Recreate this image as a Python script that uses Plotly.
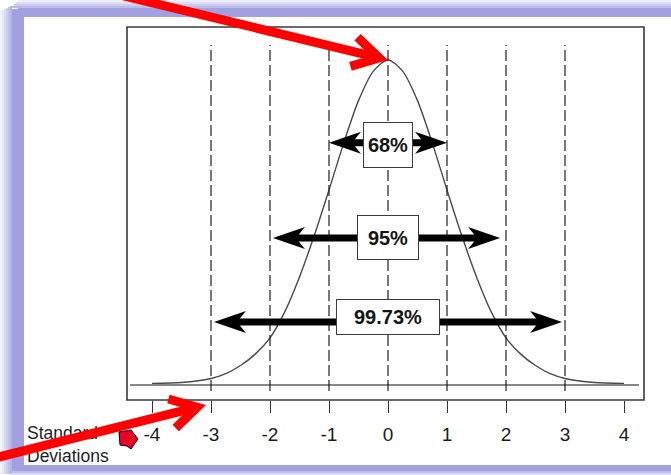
import math
import plotly.graph_objects as go

# ---------------- data ----------------
sd_x = [-4, -3.5, -3, -2.75, -2.5, -2.25, -2, -1.75, -1.5, -1.25, -1, -0.75, -0.5, -0.25, 0,
        0.25, 0.5, 0.75, 1, 1.25, 1.5, 1.75, 2, 2.25, 2.5, 2.75, 3, 3.5, 4]
density = [0.002, 0.003, 0.008, 0.014, 0.024, 0.038, 0.058, 0.090, 0.133, 0.184, 0.240, 0.298, 0.350, 0.386, 0.400,
           0.386, 0.350, 0.298, 0.240, 0.184, 0.133, 0.090, 0.058, 0.038, 0.024, 0.014, 0.008, 0.003, 0.002]
sd_lines = [-3, -2, -1, 0, 1, 2, 3]
tick_vals = [-4, -3, -2, -1, 0, 1, 2, 3, 4]
tick_labels = ["-4", "-3", "-2", "-1", "0", "1", "2", "3", "4"]
band_labels = ["68%", "95%", "99.73%"]
band_left = [-1.0, -1.95, -2.95]
band_right = [1.0, 1.9, 2.95]
band_level = [0.298, 0.181, 0.0775]
axis_caption = "Standard<br>Deviations"

# ---------------- layout geometry / styles ----------------
W, H = 671, 475
FL, FR, FT, FB = 127, 644, 27, 400   # frame (plot area) in page pixels
X_RANGE = [-4.4237, 4.339]
Y_RANGE = [-0.01846, 0.4406]
plot_w = FR - FL
plot_h = FB - FT
dxpx = (X_RANGE[1] - X_RANGE[0]) / plot_w
dypx = (Y_RANGE[1] - Y_RANGE[0]) / plot_h
box_w = [48, 60, 102]
box_h = [44, 43, 34]
box_shift = [-2, 0, 5]
FONT = "Liberation Sans, Arial, sans-serif"
LAV = "rgb(161,161,225)"
RED = "rgb(255,0,0)"


def PX(x):
    return x / W


def PY(y):
    return 1 - y / H


shapes = []

# ----- lavender frame of the screenshot -----
shapes.append(dict(type="rect", xref="paper", yref="paper", x0=PX(12), x1=PX(24), y0=PY(471), y1=PY(9),
                   fillcolor=LAV, line_width=0, layer="below"))
shapes.append(dict(type="rect", xref="paper", yref="paper", x0=PX(18), x1=PX(W + 5), y0=PY(17), y1=PY(8),
                   fillcolor=LAV, line_width=0, layer="below"))
shapes.append(dict(type="rect", xref="paper", yref="paper", x0=PX(18), x1=PX(W + 5), y0=PY(471), y1=PY(465),
                   fillcolor=LAV, line_width=0, layer="below"))
for i in range(6):
    shapes.append(dict(type="rect", xref="paper", yref="paper", x0=PX(2 * i), x1=PX(2 * i + 2),
                       y0=PY(474), y1=PY(6 + (5 - i)), fillcolor=LAV, opacity=(i + 1) / 7.5,
                       line_width=0, layer="below"))
for i in range(4):
    shapes.append(dict(type="rect", xref="paper", yref="paper", x0=PX(12 + (3 - i) * 2), x1=PX(W + 5),
                       y0=PY(2 * i + 2), y1=PY(2 * i), fillcolor=LAV, opacity=(i + 1) / 5.5,
                       line_width=0, layer="below"))
for i in range(2):
    shapes.append(dict(type="rect", xref="paper", yref="paper", x0=PX(12), x1=PX(W + 5),
                       y0=PY(473 + 2 * i), y1=PY(471 + 2 * i), fillcolor=LAV, opacity=0.7 - 0.3 * i,
                       line_width=0, layer="below"))

# ----- plot frame -----
shapes.append(dict(type="rect", xref="x domain", yref="y domain", x0=0, x1=1, y0=0, y1=1,
                   line=dict(color="#3a3a3a", width=1.6)))

# ----- dashed SD lines -----
for s in sd_lines:
    shapes.append(dict(type="line", xref="x", yref="y", x0=s, x1=s,
                       y0=-6 * dypx, y1=Y_RANGE[1] - 18 * dypx,
                       line=dict(color="#1f1f1f", width=1.2, dash="11px,4px")))

# ----- baseline -----
shapes.append(dict(type="line", xref="x", yref="y", x0=X_RANGE[0] + 3 * dxpx, x1=X_RANGE[1] - 5 * dxpx,
                   y0=0, y1=0, line=dict(color="#111", width=1.1)))

# ----- double arrows -----
HL, HW, HN = 32, 11, 9  # head length, half width, notch (px)
for lo, hi, lev in zip(band_left, band_right, band_level):
    shapes.append(dict(type="line", xref="x", yref="y", x0=lo + HL * 0.6 * dxpx, x1=hi - HL * 0.6 * dxpx,
                       y0=lev, y1=lev, line=dict(color="black", width=7)))
    for tip, d in ((lo, -1), (hi, 1)):
        pts = [(tip, lev),
               (tip - d * HL * dxpx, lev + HW * dypx),
               (tip - d * (HL - HN) * dxpx, lev),
               (tip - d * HL * dxpx, lev - HW * dypx)]
        path = "M " + " L ".join(f"{px:.5f},{py:.5f}" for px, py in pts) + " Z"
        shapes.append(dict(type="path", xref="x", yref="y", path=path, fillcolor="black", line_width=0))


# ----- red overlay arrows (screenshot annotations) -----
def red_arrow(x0, y0, x1, y1, blen=30, ang=30, w=9):
    dx, dy = x1 - x0, y1 - y0
    L = math.hypot(dx, dy)
    ux, uy = dx / L, dy / L
    back = w / 2 / math.sin(math.radians(ang))
    vx, vy = x1 - ux * back, y1 - uy * back
    out = []
    out.append(dict(type="path", xref="paper", yref="paper",
                    path=f"M {PX(x0):.5f},{PY(y0):.5f} L {PX(vx):.5f},{PY(vy):.5f}",
                    line=dict(color=RED, width=w)))
    bx, by = -ux, -uy
    ends = []
    for a in (ang, -ang):
        r = math.radians(a)
        ex = bx * math.cos(r) - by * math.sin(r)
        ey = bx * math.sin(r) + by * math.cos(r)
        ends.append((vx + ex * blen, vy + ey * blen))
    out.append(dict(type="path", xref="paper", yref="paper",
                    path=(f"M {PX(ends[0][0]):.5f},{PY(ends[0][1]):.5f} L {PX(vx):.5f},{PY(vy):.5f} "
                          f"L {PX(ends[1][0]):.5f},{PY(ends[1][1]):.5f}"),
                    line=dict(color=RED, width=w)))
    return out


shapes += red_arrow(120, -5, 388, 60)
shapes += red_arrow(-5, 458, 206, 405)

# small red pointer next to caption
pent = [(119, 432), (131, 430), (138, 439), (131, 449), (127, 446), (120, 445)]
shapes.append(dict(type="path", xref="paper", yref="paper",
                   path="M " + " L ".join(f"{PX(a):.5f},{PY(b):.5f}" for a, b in pent) + " Z",
                   fillcolor="rgb(235,0,40)", line=dict(color="black", width=1)))

# ---------------- figure ----------------
fig = go.Figure()
fig.add_trace(go.Scatter(x=sd_x, y=density, mode="lines", xaxis="x", yaxis="y",
                         line=dict(color="#4a4a4a", width=1.4, shape="spline", smoothing=0.8),
                         hoverinfo="skip", showlegend=False))
# caption placed on a full-page helper axis so the red overlay arrow can sit on top of it
fig.add_trace(go.Scatter(x=[27], y=[446], xaxis="x2", yaxis="y2",
                         mode="text", text=[axis_caption], textposition="middle right",
                         textfont=dict(family=FONT, size=17.5, color="#1e1e1e"),
                         cliponaxis=False, hoverinfo="skip", showlegend=False))

annotations = []
for lab, lev, bw, bh, sh in zip(band_labels, band_level, box_w, box_h, box_shift):
    annotations.append(dict(x=0, y=lev, xref="x", yref="y", text=f"<b>{lab}</b>", showarrow=False,
                            font=dict(family=FONT, size=20, color="#151515"),
                            bgcolor="white", bordercolor="#3a3a3a", borderwidth=1, borderpad=0,
                            width=bw, height=bh, align="center", valign="middle", yshift=sh))

fig.update_layout(
    width=W, height=H,
    margin=dict(l=0, r=0, t=0, b=0, pad=0),
    paper_bgcolor="white", plot_bgcolor="rgba(0,0,0,0)",
    showlegend=False,
    shapes=shapes,
    annotations=annotations,
    xaxis=dict(domain=[FL / W, FR / W], anchor="y", range=X_RANGE, tickvals=tick_vals, ticktext=tick_labels,
               ticks="outside", ticklen=12, tickwidth=1.2, tickcolor="#333", showgrid=False, zeroline=False,
               showline=False, tickfont=dict(family=FONT, size=19, color="#1a1a1a"), ticklabelstandoff=5,
               fixedrange=True),
    yaxis=dict(domain=[1 - FB / H, 1 - FT / H], anchor="x", range=Y_RANGE, visible=False, fixedrange=True),
    xaxis2=dict(domain=[0, 1], anchor="y2", range=[0, W], visible=False, fixedrange=True),
    yaxis2=dict(domain=[0, 1], anchor="x2", range=[H, 0], visible=False, fixedrange=True),
)

fig.write_html("out.html", config={"displayModeBar": False},
               post_script="document.body.style.margin='0';document.body.style.overflow='hidden';")
